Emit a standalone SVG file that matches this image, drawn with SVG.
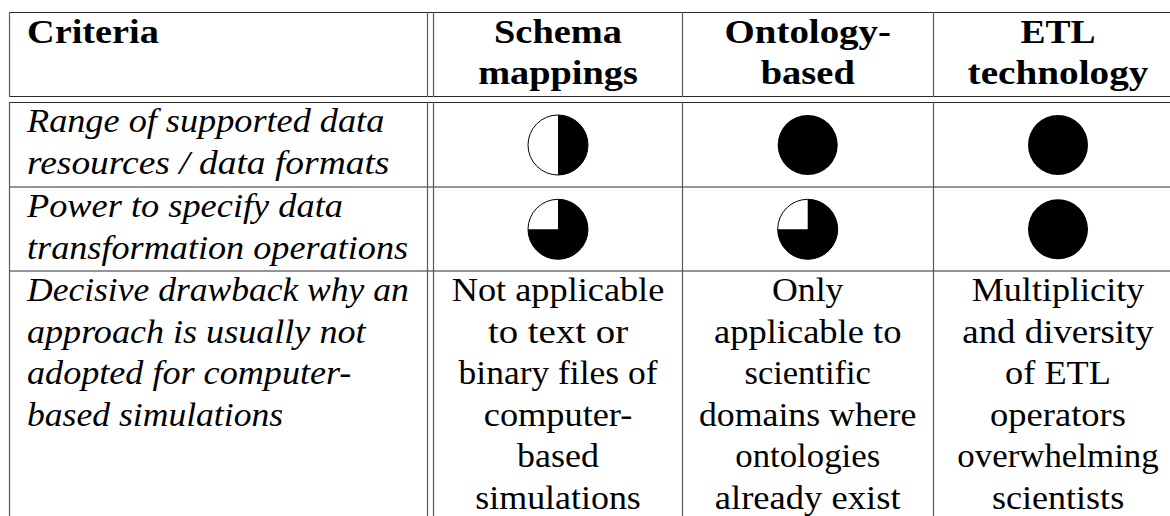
<svg xmlns="http://www.w3.org/2000/svg" width="1170" height="516" viewBox="0 0 1170 516">
  <style>
    .t { font-family: "Liberation Serif", "Times New Roman", serif; font-size: 33.4px; fill: #000; }
    .b { font-weight: bold; }
    .it { font-style: italic; }
    .hl { stroke: #2a2a2a; stroke-width: 1.2; fill: none; }
    .vl { stroke: #5a5a5a; stroke-width: 1.2; fill: none; }
    .full { fill: #000; }
    .rim { fill: #fff; stroke: #000; stroke-width: 1; }
  </style>
  <defs>
    <!-- Harvey balls, radius 30, centred on the origin -->
    <circle id="ball-full" r="30" class="full"/>
    <g id="ball-half">
      <circle r="30" class="rim"/>
      <path d="M0,-30 A30,30 0 0 1 0,30 Z" class="full"/>
    </g>
    <g id="ball-three">
      <circle r="30" class="rim"/>
      <path d="M0,0 L0,-30 A30,30 0 1 1 -30,0 Z" class="full"/>
    </g>
  </defs>

  <rect width="1170" height="516" fill="#fff"/>

  <!-- table rules -->
  <g id="grid">
    <line class="hl" x1="9" y1="12.5" x2="1170" y2="12.5"/>
    <line class="hl" x1="9" y1="96.5" x2="1170" y2="96.5"/>
    <line class="hl" x1="9" y1="102.5" x2="1170" y2="102.5"/>
    <line class="hl" x1="9" y1="187" x2="1170" y2="187"/>
    <line class="hl" x1="9" y1="271" x2="1170" y2="271"/>

    <line class="vl" x1="9.5" y1="12" x2="9.5" y2="97"/>
    <line class="vl" x1="427.5" y1="12" x2="427.5" y2="97"/>
    <line class="vl" x1="433.5" y1="12" x2="433.5" y2="97"/>
    <line class="vl" x1="682.5" y1="12" x2="682.5" y2="97"/>
    <line class="vl" x1="933.5" y1="12" x2="933.5" y2="97"/>

    <line class="vl" x1="9.5" y1="102" x2="9.5" y2="516"/>
    <line class="vl" x1="427.5" y1="102" x2="427.5" y2="516"/>
    <line class="vl" x1="433.5" y1="102" x2="433.5" y2="516"/>
    <line class="vl" x1="682.5" y1="102" x2="682.5" y2="516"/>
    <line class="vl" x1="933.5" y1="102" x2="933.5" y2="516"/>
  </g>

  <!-- header row -->
  <g id="header">
    <text class="t b" x="27" y="42.5" textLength="131.9" lengthAdjust="spacingAndGlyphs">Criteria</text>
    <text class="t b" x="494" y="42.5" textLength="128" lengthAdjust="spacingAndGlyphs">Schema</text>
    <text class="t b" x="478.2" y="84" textLength="159.7" lengthAdjust="spacingAndGlyphs">mappings</text>
    <text class="t b" x="724.5" y="42.5" textLength="166.5" lengthAdjust="spacingAndGlyphs">Ontology-</text>
    <text class="t b" x="760.7" y="84" textLength="94.1" lengthAdjust="spacingAndGlyphs">based</text>
    <text class="t b" x="1020.5" y="42.5" textLength="75.1" lengthAdjust="spacingAndGlyphs">ETL</text>
    <text class="t b" x="967.6" y="84" textLength="180.8" lengthAdjust="spacingAndGlyphs">technology</text>
  </g>

  <!-- row 1: range of data resources -->
  <g id="row-range">
    <text class="t it" x="27" y="132" textLength="357.3" lengthAdjust="spacingAndGlyphs">Range of supported data</text>
    <text class="t it" x="27" y="173.5" textLength="362.4" lengthAdjust="spacingAndGlyphs">resources / data formats</text>
    <use href="#ball-half" x="558" y="145"/>
    <use href="#ball-full" x="807.7" y="145"/>
    <use href="#ball-full" x="1058" y="145"/>
  </g>

  <!-- row 2: transformation power -->
  <g id="row-power">
    <text class="t it" x="27" y="217" textLength="315.9" lengthAdjust="spacingAndGlyphs">Power to specify data</text>
    <text class="t it" x="27" y="258.5" textLength="381.1" lengthAdjust="spacingAndGlyphs">transformation operations</text>
    <use href="#ball-three" x="558" y="229.3"/>
    <use href="#ball-three" x="807.7" y="229.3"/>
    <use href="#ball-full" x="1058" y="229.3"/>
  </g>

  <!-- row 3: decisive drawback -->
  <g id="row-drawback">
    <text class="t it" x="27" y="301" textLength="381.7" lengthAdjust="spacingAndGlyphs">Decisive drawback why an</text>
    <text class="t it" x="27" y="342.5" textLength="338.5" lengthAdjust="spacingAndGlyphs">approach is usually not</text>
    <text class="t it" x="27" y="384" textLength="324.4" lengthAdjust="spacingAndGlyphs">adopted for computer-</text>
    <text class="t it" x="27" y="425.5" textLength="256.1" lengthAdjust="spacingAndGlyphs">based simulations</text>

    <text class="t" x="451.8" y="301" textLength="212.5" lengthAdjust="spacingAndGlyphs">Not applicable</text>
    <text class="t" x="487.9" y="342.5" textLength="140.2" lengthAdjust="spacingAndGlyphs">to text or</text>
    <text class="t" x="458.6" y="384" textLength="198.9" lengthAdjust="spacingAndGlyphs">binary files of</text>
    <text class="t" x="483.8" y="425.5" textLength="148.5" lengthAdjust="spacingAndGlyphs">computer-</text>
    <text class="t" x="517.1" y="467" textLength="81.8" lengthAdjust="spacingAndGlyphs">based</text>
    <text class="t" x="475.3" y="508.5" textLength="165.5" lengthAdjust="spacingAndGlyphs">simulations</text>

    <text class="t" x="772" y="301" textLength="71.5" lengthAdjust="spacingAndGlyphs">Only</text>
    <text class="t" x="714" y="342.5" textLength="187.4" lengthAdjust="spacingAndGlyphs">applicable to</text>
    <text class="t" x="744.5" y="384" textLength="126.4" lengthAdjust="spacingAndGlyphs">scientific</text>
    <text class="t" x="699" y="425.5" textLength="217.4" lengthAdjust="spacingAndGlyphs">domains where</text>
    <text class="t" x="735.3" y="467" textLength="144.9" lengthAdjust="spacingAndGlyphs">ontologies</text>
    <text class="t" x="714.8" y="508.5" textLength="185.8" lengthAdjust="spacingAndGlyphs">already exist</text>

    <text class="t" x="971.7" y="301" textLength="172.6" lengthAdjust="spacingAndGlyphs">Multiplicity</text>
    <text class="t" x="962.3" y="342.5" textLength="191.4" lengthAdjust="spacingAndGlyphs">and diversity</text>
    <text class="t" x="1005.1" y="384" textLength="105.8" lengthAdjust="spacingAndGlyphs">of ETL</text>
    <text class="t" x="990.1" y="425.5" textLength="135.8" lengthAdjust="spacingAndGlyphs">operators</text>
    <text class="t" x="957.3" y="467" textLength="201.4" lengthAdjust="spacingAndGlyphs">overwhelming</text>
    <text class="t" x="991.9" y="508.5" textLength="132.3" lengthAdjust="spacingAndGlyphs">scientists</text>
  </g>
</svg>
